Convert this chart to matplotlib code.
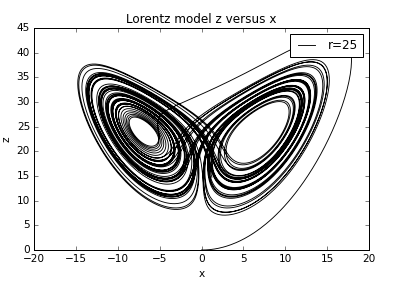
import matplotlib
matplotlib.use("Agg")
import matplotlib.pyplot as plt
import numpy as np

# parameters of the Lorentz system
sigma = 10.0
r = 25.0
b = 2.0
start = [0.0, 1.0, 0.0]
t_end = 70.0
dt = 0.005

title = "Lorentz model z versus x"
x_ticks = [-20, -15, -10, -5, 0, 5, 10, 15, 20]
z_ticks = [0, 5, 10, 15, 20, 25, 30, 35, 40, 45]


def deriv(s):
    x, y, z = s
    return np.array([sigma * (y - x), r * x - y - x * z, x * y - b * z])


def integrate(s0, n):
    out = np.zeros((n + 1, 3))
    s = np.array(s0)
    out[0] = s
    for i in range(n):
        k1 = deriv(s)
        k2 = deriv(s + 0.5 * dt * k1)
        k3 = deriv(s + 0.5 * dt * k2)
        k4 = deriv(s + dt * k3)
        s = s + dt / 6.0 * (k1 + 2 * k2 + 2 * k3 + k4)
        out[i + 1] = s
    return out


traj = integrate(start, int(t_end / dt))

plt.style.use("classic")
fig = plt.figure(figsize=(5.5, 289 / 72), dpi=72)
ax = fig.add_axes([34 / 396, 1 - 250 / 289, 335 / 396, 222 / 289])
ax.plot(traj[:, 0], traj[:, 2], color="black", lw=0.9, label="r=25")
ax.set_xlim(-20, 20)
ax.set_ylim(0, 45)
ax.set_xticks(x_ticks)
ax.set_yticks(z_ticks)
ax.tick_params(labelsize=10.5)
ax.set_xlabel("x", fontsize=10.5)
ax.set_ylabel("z", fontsize=10.5)
ax.set_title(title, fontsize=12)
ax.legend(loc="upper right", fontsize=12)
fig.savefig("out.png", dpi=72)
